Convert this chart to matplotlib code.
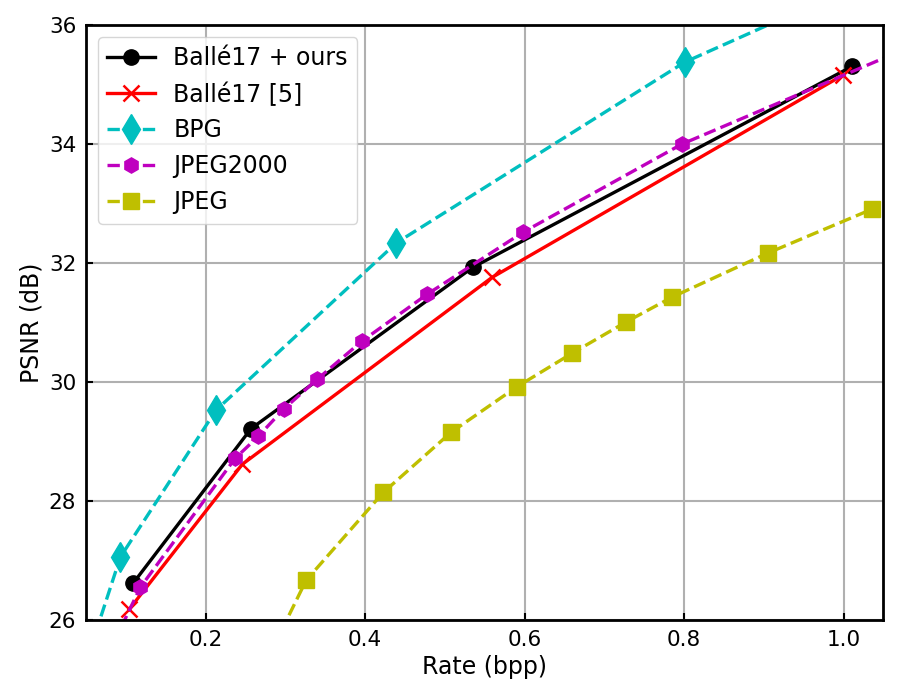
import matplotlib
matplotlib.use("Agg")
import matplotlib.pyplot as plt

# ===== Data (rate in bpp, PSNR in dB) =====
ours_rate = [0.109, 0.257, 0.535, 1.011]
ours_psnr = [26.62, 29.22, 31.93, 35.31]

balle_rate = [0.104, 0.246, 0.559, 0.999]
balle_psnr = [26.18, 28.62, 31.76, 35.16]

bpg_rate = [0.055, 0.093, 0.213, 0.439, 0.801, 1.08]
bpg_psnr = [25.50, 27.06, 29.53, 32.34, 35.38, 37.05]

j2k_rate = [0.075, 0.118, 0.237, 0.266, 0.298, 0.340, 0.396, 0.478, 0.598, 0.797, 1.2]
j2k_psnr = [25.35, 26.55, 28.72, 29.09, 29.55, 30.05, 30.69, 31.48, 32.52, 34.00, 36.3]

jpeg_rate = [0.285, 0.326, 0.423, 0.508, 0.590, 0.660, 0.727, 0.785, 0.905, 1.036]
jpeg_psnr = [25.55, 26.67, 28.15, 29.16, 29.92, 30.49, 31.01, 31.43, 32.17, 32.91]

# ===== Plot =====
fig = plt.figure(figsize=(9, 7), dpi=100)
ax = fig.add_axes([0.0956, 0.114, 0.886, 0.85])

ax.plot(ours_rate, ours_psnr, "-", color="k", marker="o", lw=2.4, ms=11,
        label="Ballé17 + ours")
ax.plot(balle_rate, balle_psnr, "-", color="r", marker="x", lw=2.4, ms=11,
        mew=1.8, label="Ballé17 [5]")
ax.plot(bpg_rate, bpg_psnr, "--", color="c", marker="d", lw=2.4, ms=15,
        label="BPG")
ax.plot(j2k_rate, j2k_psnr, "--", color="m", marker="h", lw=2.4, ms=11,
        label="JPEG2000")
ax.plot(jpeg_rate, jpeg_psnr, "--", color="y", marker="s", lw=2.4, ms=11,
        label="JPEG")

ax.set_xlim(0.05, 1.05)
ax.set_ylim(26, 36)
ax.set_xticks([0.2, 0.4, 0.6, 0.8, 1.0])
ax.set_yticks([26, 28, 30, 32, 34, 36])
ax.grid(True, color="#b0b0b0", lw=1.5)
ax.set_axisbelow(True)
ax.tick_params(direction="in", length=5, width=1.5, labelsize=15.5, pad=7)
for s in ax.spines.values():
    s.set_linewidth(2)

ax.set_xlabel("Rate (bpp)", fontsize=17)
ax.set_ylabel("PSNR (dB)", fontsize=17)
ax.legend(loc="upper left", fontsize=17)

fig.savefig("out.png", dpi=100)
